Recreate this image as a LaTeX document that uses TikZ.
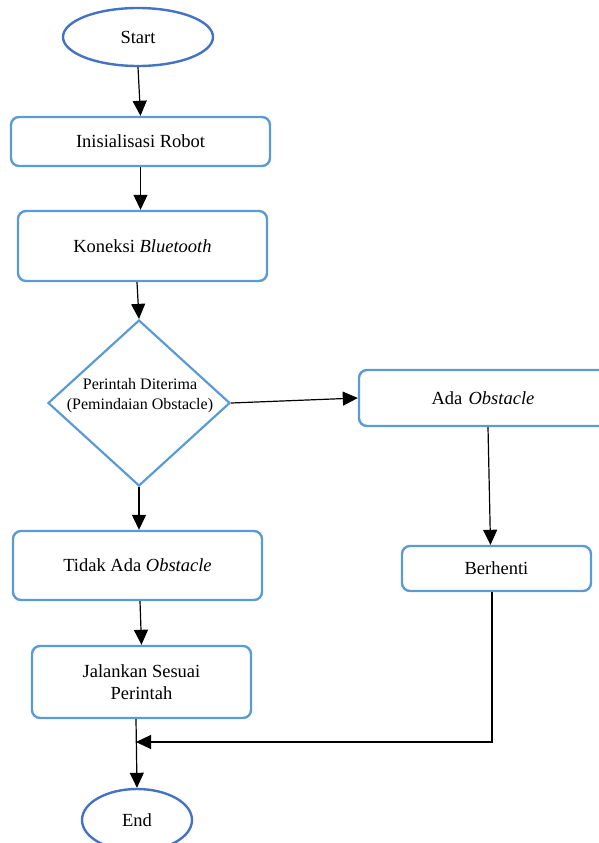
\documentclass[tikz,border=0pt]{standalone}
\usepackage{fontspec}
\setmainfont{Liberation Serif}
\usetikzlibrary{arrows.meta,positioning,shapes.geometric}
\definecolor{boxblue}{HTML}{5B9BD5}
\definecolor{termblue}{HTML}{4472C4}

\tikzset{
  prosesbox/.style={draw=boxblue,line width=2.4pt,rounded corners=8pt,inner sep=0pt,
    align=center,font=\fontsize{18.5}{22}\selectfont},
  terminal/.style={draw=termblue,ellipse,line width=2.4pt,inner sep=0pt,
    font=\fontsize{18.5}{22}\selectfont},
  keputusan/.style={draw=boxblue,diamond,line width=2.2pt,inner sep=0pt,
    minimum width=182pt,minimum height=166pt},
  panah/.style={-{Triangle[length=15pt,width=14pt]},line width=1.2pt}
}

\begin{document}
\begin{tikzpicture}[x=1pt,y=-1pt]
  \useasboundingbox (0,0) rectangle (598,843);
  % left column
  \node[terminal,minimum width=150pt,minimum height=58pt] (start) at (138,37) {Start};
  \node[prosesbox,minimum width=259pt,minimum height=49pt] (init) at (140.5,141.5) {Inisialisasi Robot};
  \node[prosesbox,minimum width=249pt,minimum height=70pt] (koneksi) at (142.5,246) {Koneksi \textit{Bluetooth}};
  \node[keputusan] (cek) at (139,403) {};
  \node[align=center,font=\fontsize{16}{20}\selectfont] (cekteks) at (140,396) {Perintah Diterima\\(Pemindaian Obstacle)};
  \node[prosesbox,minimum width=249pt,minimum height=69pt] (tidak) at (137.5,565.5) {Tidak Ada \textit{Obstacle}};
  \node[prosesbox,minimum width=219pt,minimum height=72pt] (jalan) at (141.5,682) {Jalankan Sesuai\\Perintah};
  \node[terminal,minimum width=110pt,minimum height=62pt] (akhir) at (137,820) {End};
  % right column
  \node[prosesbox,minimum width=250pt,minimum height=56pt,text width=250pt] (ada) at (484,398) {\hspace*{-2pt}Ada \textit{Obstacle}};
  \node[prosesbox,minimum width=189pt,minimum height=45pt] (henti) at (496.5,568.5) {Berhenti};
  \coordinate (gabung) at (136,742);

  \draw[panah] (start.south) -- (init.north);
  \draw[panah] (init.south) -- (init.south |- koneksi.north);
  \draw[panah] ([xshift=-5.5pt]koneksi.south) -- (cek.north);
  \draw[panah] (cek.south) -- (cek.south |- tidak.north);
  \draw[panah] ([xshift=2.5pt]tidak.south) -- (jalan.north);
  \draw[panah] ([xshift=-5.5pt]jalan.south) -- (akhir.north);
  \draw[panah] (cek.east) -- (ada.west);
  \draw[panah] ([xshift=4pt]ada.south) -- ([xshift=-6pt]henti.north);
  \draw[panah] ([xshift=-4.5pt]henti.south) |- (gabung);
\end{tikzpicture}
\end{document}
